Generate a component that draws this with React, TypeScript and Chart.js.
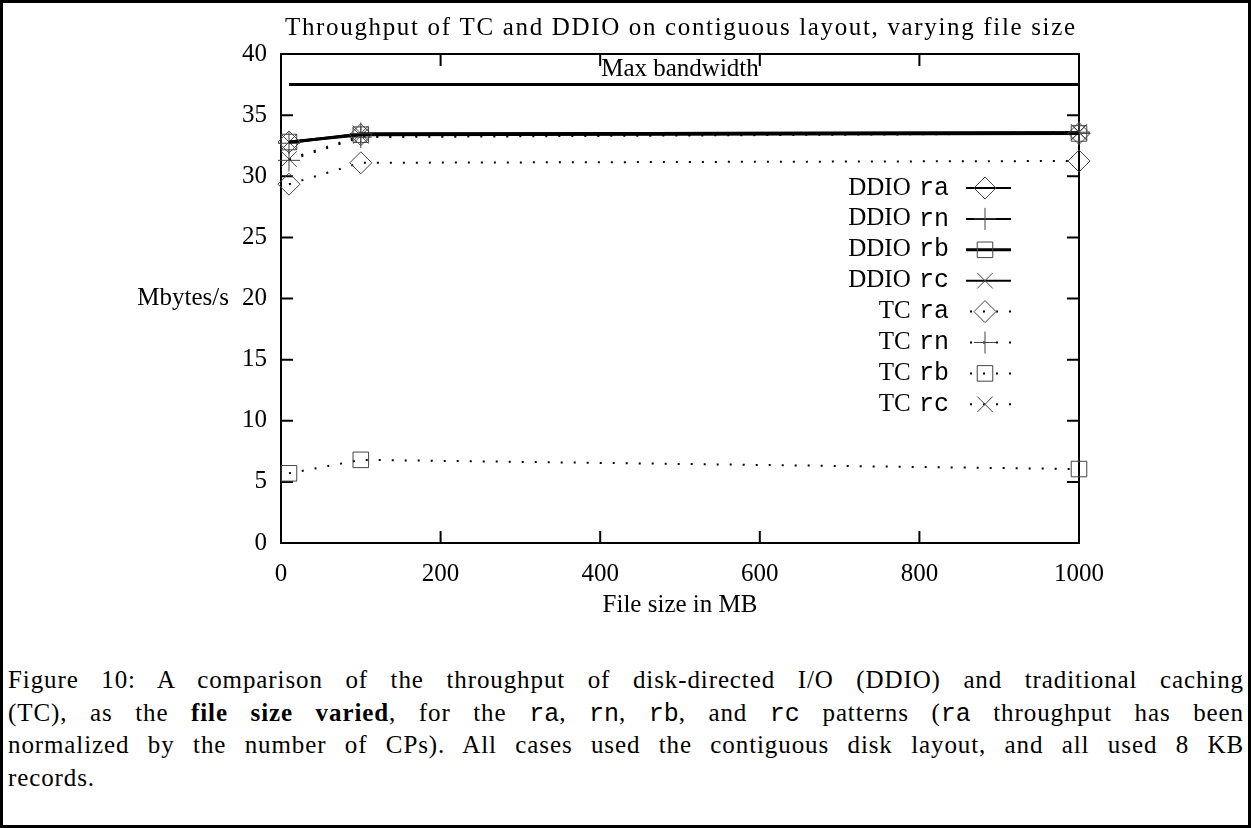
import React, { useEffect, useRef } from "react";
import { Chart, registerables } from "chart.js";

Chart.register(...registerables);

// ---------------- data ----------------
const fileSizes = [10, 100, 1000];
const ddioRa = [32.8, 33.4, 33.5];
const ddioRn = [32.7, 33.5, 33.6];
const ddioRb = [32.8, 33.4, 33.5];
const ddioRc = [32.8, 33.5, 33.6];
const tcRa = [29.35, 31.1, 31.25];
const tcRn = [31.3, 33.2, 33.5];
const tcRb = [5.7, 6.8, 6.05];
const tcRc = [31.4, 33.3, 33.6];
const maxBandwidthX = [10, 1000];
const maxBandwidthY = [37.5, 37.5];
const maxBandwidthLabel = "Max bandwidth";
const maxBandwidthLabelPos = [500, 38.7];
const xTickValues = [0, 200, 400, 600, 800, 1000];
const yTickValues = [0, 5, 10, 15, 20, 25, 30, 35, 40];
const chartTitle = "Throughput of TC and DDIO on contiguous layout, varying file size";
const xAxisTitle = "File size in MB";
const yAxisTitle = "Mbytes/s";

const seriesMethod = ["DDIO", "DDIO", "DDIO", "DDIO", "TC", "TC", "TC", "TC"];
const seriesPattern = ["ra", "rn", "rb", "rc", "ra", "rn", "rb", "rc"];
const seriesValues = [ddioRa, ddioRn, ddioRb, ddioRc, tcRa, tcRn, tcRb, tcRc];

// ---------------- styles ----------------
const SERIF = "'Liberation Serif', 'DejaVu Serif', serif";
const MONO = "'Liberation Mono', 'DejaVu Sans Mono', monospace";
const FONT_SIZE = 25;
const pointStyles = ["rectRot", "cross", "rect", "crossRot", "rectRot", "cross", "rect", "crossRot"];
const lineWidths = [2, 2, 3, 2, 2, 2, 2, 2];
const DOT_DASH = [2, 11];

const toXY = (xs: number[], ys: number[]) => xs.map((x, i) => ({ x, y: ys[i] }));

function fitText(ctx: CanvasRenderingContext2D, text: string, cx: number, y: number, target: number) {
  (ctx as any).letterSpacing = "0px";
  const w = ctx.measureText(text).width;
  const ls = (target - w) / Math.max(1, text.length - 1);
  (ctx as any).letterSpacing = ls + "px";
  ctx.textAlign = "left";
  ctx.fillText(text, cx - target / 2, y);
  (ctx as any).letterSpacing = "0px";
}

function drawSymbol(ctx: CanvasRenderingContext2D, style: string, x: number, y: number, r: number) {
  ctx.beginPath();
  if (style === "rectRot") {
    ctx.moveTo(x - r, y);
    ctx.lineTo(x, y - r);
    ctx.lineTo(x + r, y);
    ctx.lineTo(x, y + r);
    ctx.closePath();
  } else if (style === "cross") {
    ctx.moveTo(x - r, y);
    ctx.lineTo(x + r, y);
    ctx.moveTo(x, y - r);
    ctx.lineTo(x, y + r);
  } else if (style === "rect") {
    const s = r * Math.SQRT1_2;
    ctx.rect(x - s, y - s, 2 * s, 2 * s);
  } else if (style === "crossRot") {
    const s = r * Math.SQRT1_2;
    ctx.moveTo(x - s, y - s);
    ctx.lineTo(x + s, y + s);
    ctx.moveTo(x + s, y - s);
    ctx.lineTo(x - s, y + s);
  }
  ctx.stroke();
}

const gnuplotPlugin = {
  id: "gnuplotFrame",
  beforeDatasetsDraw(chart: any) {
    const { ctx, chartArea: a, scales } = chart;
    ctx.save();
    ctx.strokeStyle = "#000";
    ctx.lineWidth = 2;
    ctx.strokeRect(a.left, a.top, a.right - a.left, a.bottom - a.top);
    const L = 12;
    ctx.beginPath();
    for (const v of xTickValues) {
      const px = scales.x.getPixelForValue(v);
      ctx.moveTo(px, a.bottom);
      ctx.lineTo(px, a.bottom - L);
      ctx.moveTo(px, a.top);
      ctx.lineTo(px, a.top + L);
    }
    for (const v of yTickValues) {
      const py = scales.y.getPixelForValue(v);
      ctx.moveTo(a.left, py);
      ctx.lineTo(a.left + L, py);
      ctx.moveTo(a.right, py);
      ctx.lineTo(a.right - L, py);
    }
    ctx.stroke();
    ctx.restore();
  },
  afterDraw(chart: any) {
    const { ctx, chartArea: a, scales } = chart;
    ctx.save();
    ctx.fillStyle = "#000";
    ctx.font = `${FONT_SIZE}px ${SERIF}`;
    ctx.textBaseline = "middle";
    const cx = (a.left + a.right) / 2;
    // title
    fitText(ctx, chartTitle, cx, 25, 790);
    // x axis title
    ctx.textAlign = "center";
    ctx.fillText(xAxisTitle, cx, 602);
    // y axis title
    ctx.textAlign = "right";
    ctx.fillText(yAxisTitle, 226, scales.y.getPixelForValue(20));
    // max bandwidth label
    ctx.textAlign = "center";
    ctx.fillText(
      maxBandwidthLabel,
      scales.x.getPixelForValue(maxBandwidthLabelPos[0]),
      scales.y.getPixelForValue(maxBandwidthLabelPos[1])
    );
    // legend
    const textRight = 946;
    const lineStart = 963;
    const lineEnd = 1008;
    const symX = 982;
    for (let i = 0; i < seriesPattern.length; i++) {
      const y = 185 + 30.9 * i;
      ctx.font = `${FONT_SIZE}px ${MONO}`;
      ctx.textAlign = "right";
      ctx.fillStyle = "#000";
      ctx.fillText(seriesPattern[i], textRight, y);
      const mw = ctx.measureText(seriesPattern[i]).width;
      ctx.font = `${FONT_SIZE}px ${SERIF}`;
      ctx.fillText(seriesMethod[i] + " ", textRight - mw - 2, y);
      const dotted = seriesMethod[i] === "TC";
      ctx.strokeStyle = "#000";
      ctx.lineWidth = lineWidths[i];
      ctx.setLineDash(dotted ? DOT_DASH : []);
      ctx.lineDashOffset = dotted ? -4 : 0;
      ctx.beginPath();
      ctx.moveTo(lineStart, y);
      ctx.lineTo(lineEnd, y);
      ctx.stroke();
      ctx.setLineDash([]);
      ctx.strokeStyle = "#444";
      ctx.lineWidth = 1;
      drawSymbol(ctx, pointStyles[i], symX, y, 11);
    }
    ctx.restore();
  },
};

export default function App() {
  const canvasRef = useRef<HTMLCanvasElement | null>(null);

  useEffect(() => {
    const canvas = canvasRef.current;
    if (!canvas) return;
    const datasets: any[] = seriesValues.map((vals, i) => {
      const dotted = seriesMethod[i] === "TC";
      return {
        label: `${seriesMethod[i]} ${seriesPattern[i]}`,
        data: toXY(fileSizes, vals),
        borderColor: "#000",
        borderWidth: lineWidths[i],
        borderDash: dotted ? DOT_DASH : [],
        pointStyle: pointStyles[i],
        pointRadius: 11,
        pointBorderColor: "#444",
        pointBorderWidth: 1,
        pointBackgroundColor: "rgba(0,0,0,0)",
        backgroundColor: "rgba(0,0,0,0)",
        fill: false,
        tension: 0,
        clip: false,
      };
    });
    datasets.push({
      label: maxBandwidthLabel,
      data: toXY(maxBandwidthX, maxBandwidthY),
      borderColor: "#000",
      borderWidth: 3,
      pointRadius: 0,
      fill: false,
      clip: false,
    });

    const chart = new Chart(canvas, {
      type: "line",
      data: { datasets },
      options: {
        animation: false,
        responsive: false,
        devicePixelRatio: 1,
        layout: { padding: { left: 178, right: 169, top: 51, bottom: 0 } },
        plugins: {
          legend: { display: false },
          title: { display: false },
          tooltip: { enabled: false },
        },
        scales: {
          x: {
            type: "linear",
            min: 0,
            max: 1000,
            afterBuildTicks: (s: any) => {
              s.ticks = xTickValues.map((v) => ({ value: v }));
            },
            afterFit: (s: any) => {
              s.height = 100;
            },
            grid: { display: false, drawTicks: false },
            border: { display: false },
            ticks: {
              padding: 16,
              color: "#000",
              font: { family: SERIF, size: FONT_SIZE },
              maxRotation: 0,
              callback: (v: any) => String(v),
            },
          },
          y: {
            type: "linear",
            min: 0,
            max: 40,
            afterBuildTicks: (s: any) => {
              s.ticks = yTickValues.map((v) => ({ value: v }));
            },
            afterFit: (s: any) => {
              s.width = 100;
            },
            grid: { display: false, drawTicks: false },
            border: { display: false },
            ticks: {
              padding: 14,
              color: "#000",
              font: { family: SERIF, size: FONT_SIZE },
              callback: (v: any) => String(v),
            },
          },
        },
      } as any,
      plugins: [gnuplotPlugin as any],
    });
    return () => chart.destroy();
  }, []);

  const code = (t: string) => <span style={{ fontFamily: MONO, letterSpacing: 0 }}>{t}</span>;
  const lineStyle: React.CSSProperties = {
    textAlign: "justify",
    textAlignLast: "justify" as any,
    whiteSpace: "normal",
    height: 32.7,
  };

  return (
    <div
      style={{
        position: "absolute",
        left: 0,
        top: 0,
        width: 1251,
        height: 828,
        boxSizing: "border-box",
        border: "3px solid #000",
        background: "#fff",
        overflow: "hidden",
      }}
    >
      <canvas
        ref={canvasRef}
        width={1245}
        height={640}
        style={{ position: "absolute", left: 0, top: 0, width: 1245, height: 640 }}
      />
      <div
        style={{
          position: "absolute",
          left: 5,
          width: 1236,
          top: 661,
          fontFamily: SERIF,
          fontSize: FONT_SIZE,
          letterSpacing: "0.9px",
          lineHeight: "32.7px",
          color: "#000",
        }}
      >
        <div style={lineStyle}>
          Figure 10: A comparison of the throughput of disk-directed I/O (DDIO) and traditional caching
        </div>
        <div style={lineStyle}>
          (TC), as the <b>file size varied</b>, for the {code("ra")}, {code("rn")}, {code("rb")}, and {code("rc")} patterns ({code("ra")} throughput has been
        </div>
        <div style={lineStyle}>
          normalized by the number of CPs). All cases used the contiguous disk layout, and all used 8 KB
        </div>
        <div style={{ height: 32.7 }}>records.</div>
      </div>
    </div>
  );
}
